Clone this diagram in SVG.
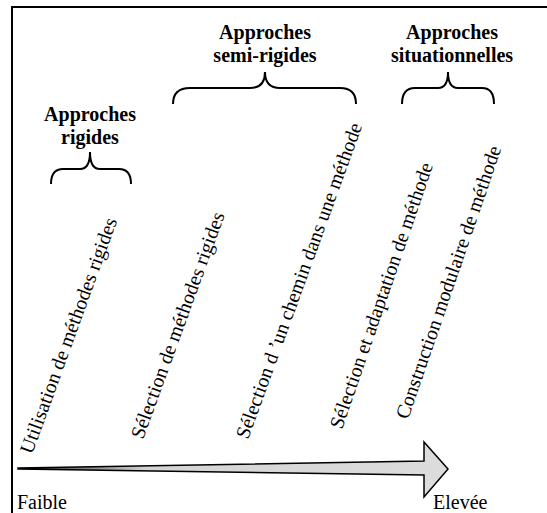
<svg xmlns="http://www.w3.org/2000/svg" width="547" height="513" viewBox="0 0 547 513">
<defs>
<linearGradient id="g" x1="18" y1="0" x2="448" y2="0" gradientUnits="userSpaceOnUse">
<stop offset="0" stop-color="#000"/>
<stop offset="0.08" stop-color="#555"/>
<stop offset="0.3" stop-color="#d4d4d4"/>
<stop offset="1" stop-color="#dcdcdc"/>
</linearGradient>
</defs>
<rect width="547" height="513" fill="#fff"/>
<path d="M12,513 L12,7 L547,7" fill="none" stroke="#000" stroke-width="2"/>
<g id="connectors">
<polygon points="18,468 424,461 424,442 448,469 424,497 424,475 18,469" fill="url(#g)" stroke="#000" stroke-width="1.5" stroke-linejoin="miter"/>
</g>
<g font-family="Liberation Serif" font-size="20" fill="#000">
<g font-weight="bold" text-anchor="middle">
<g id="rigides">
<text x="90" y="121">Approches</text>
<text x="90" y="144">rigides</text>
<path fill="none" stroke="#000" stroke-width="2" d="M51,184 Q51,169 63,169 L80,169 Q90,169 90,152 Q90,169 100,169 L119,169 Q131,169 131,184"/>
</g>
<g id="semi-rigides">
<text x="265" y="39">Approches</text>
<text x="265" y="62">semi-rigides</text>
<path fill="none" stroke="#000" stroke-width="2" d="M173,104 Q173,88 190,88 L250,88 Q265,88 265,72 Q265,88 280,88 L340,88 Q356,88 356,104"/>
</g>
<g id="situationnelles">
<text x="452" y="39">Approches</text>
<text x="452" y="62">situationnelles</text>
<path fill="none" stroke="#000" stroke-width="2" d="M402,104 Q402,88 415,88 L438,88 Q448,88 448,72 Q448,88 458,88 L482,88 Q494,88 494,104"/>
</g>
</g>
<g id="label1"><text transform="translate(32,455) rotate(-70)">Utilisation de méthodes rigides</text></g>
<g id="label2"><text transform="translate(143,440) rotate(-70)">Sélection de méthodes rigides</text></g>
<g id="label3"><text transform="translate(248,440) rotate(-70)">Sélection d ’un chemin dans une méthode</text></g>
<g id="label4"><text transform="translate(342,430) rotate(-71)">Sélection et adaptation de méthode</text></g>
<g id="label5"><text transform="translate(408,420) rotate(-71)">Construction modulaire de méthode</text></g>
<g id="faible"><text x="17" y="509">Faible</text></g>
<g id="elevee"><text x="433" y="509">Elevée</text></g>
</g>
</svg>
